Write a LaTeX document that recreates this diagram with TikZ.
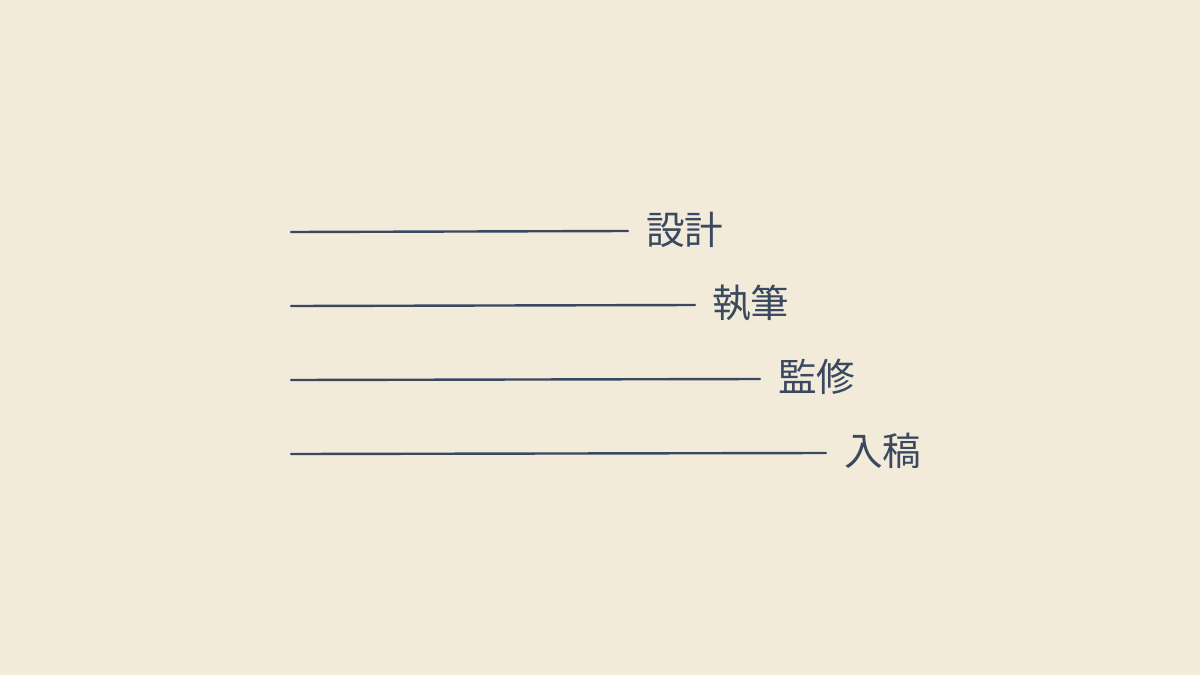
\documentclass[tikz,border=0pt]{standalone}
\usepackage{fontspec}
\newfontfamily\cjk{Noto Sans CJK JP}
\definecolor{bg}{HTML}{F3EBD9}
\definecolor{ink}{HTML}{3A4860}
\begin{document}
\begin{tikzpicture}[x=0.75pt,y=-0.75pt,
  rule/.style={draw=ink,line width=1.8pt,line cap=round},
  lbl/.style={anchor=west,inner sep=0pt,text=ink,font=\cjk\fontsize{29}{32}\selectfont}]
\fill[bg] (0,0) rectangle (1200,675);
\useasboundingbox (0,0) rectangle (1200,675);
\coordinate (s1) at (291,232);
\coordinate (e1) at (628,231);
\coordinate (s2) at (291,306);
\coordinate (e2) at (695,305);
\coordinate (s3) at (291,380);
\coordinate (e3) at (760,379);
\coordinate (s4) at (291,454);
\coordinate (e4) at (826,453);
\draw[rule] (s1) -- (e1);
\draw[rule] (s2) -- (e2);
\draw[rule] (s3) -- (e3);
\draw[rule] (s4) -- (e4);
\node[lbl] (t1) at (646,230) {設計};
\node[lbl] (t2) at (712,303) {執筆};
\node[lbl] (t3) at (778,377) {監修};
\node[lbl] (t4) at (844,451) {入稿};
\end{tikzpicture}
\end{document}
